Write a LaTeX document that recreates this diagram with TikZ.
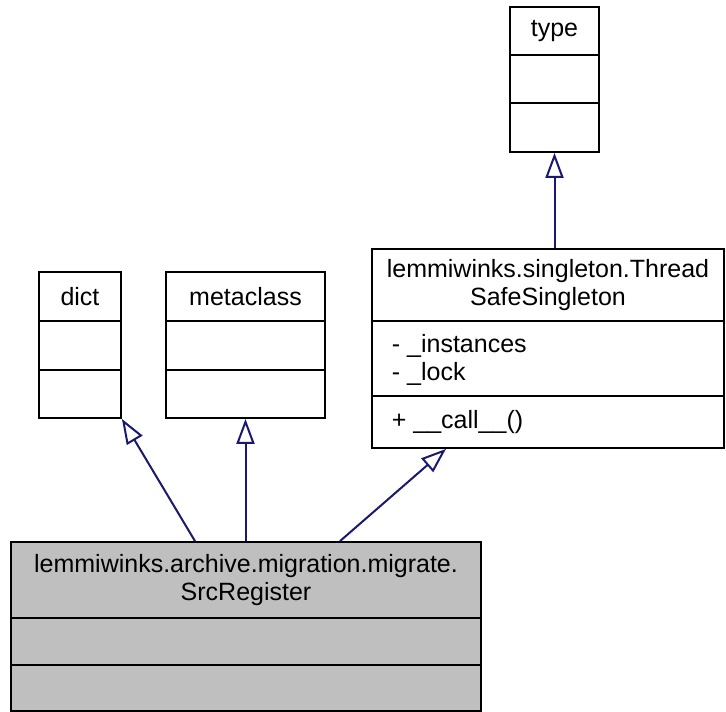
\documentclass[tikz,border=0pt]{standalone}
\usepackage{fontspec}
\setmainfont{Liberation Sans}
\usepackage{xcolor}
\usepackage{tikz}
\usetikzlibrary{arrows.meta, positioning}

\definecolor{edgeblue}{HTML}{191970}
\definecolor{boxgrey}{HTML}{BFBFBF}

\begin{document}
\begin{tikzpicture}[x=1pt, y=-1pt, line width=1.8pt,
    umlbox/.style={draw, rectangle, inner sep=0pt},
    title/.style={font=\fontsize{25}{27.7}\selectfont, align=center, inner sep=0pt},
    member/.style={font=\fontsize{25}{27.7}\selectfont, align=left, anchor=west, inner sep=0pt},
    derive/.style={draw=edgeblue, line width=2pt, -{Triangle[open, length=25pt, width=18pt]}}]
    % Khung
    \fill[white] (0,0) rectangle (726,712);
    \useasboundingbox (0,0) rectangle (726,712);

    % Các lớp cơ sở
    \node[umlbox, minimum width=89pt, minimum height=145pt] (type) at (554.5,79.5) {};
    \node[umlbox, minimum width=82pt, minimum height=146pt] (dict) at (80,345) {};
    \node[umlbox, minimum width=159pt, minimum height=146pt] (meta) at (245.5,345) {};
    \node[umlbox, minimum width=352pt, minimum height=199pt] (tss) at (548,348.5) {};
    \node[umlbox, fill=boxgrey, minimum width=470pt, minimum height=169pt] (src) at (246,626.5) {};

    % Các vạch ngăn
    \foreach \y in {55,103} {
        \draw (type.west |- 0,\y) -- (type.east |- 0,\y);
    }
    \foreach \y in {321,370} {
        \draw (dict.west |- 0,\y) -- (dict.east |- 0,\y);
        \draw (meta.west |- 0,\y) -- (meta.east |- 0,\y);
    }
    \foreach \y in {321,396} {
        \draw (tss.west |- 0,\y) -- (tss.east |- 0,\y);
    }
    \foreach \y in {618,665} {
        \draw (src.west |- 0,\y) -- (src.east |- 0,\y);
    }

    % Tên lớp và thành viên
    \node[title] (typename) at (554.5,31) {type};
    \node[title] (dictname) at (80,296.5) {dict};
    \node[title] (metaname) at (245.5,296.5) {metaclass};
    \node[title] (tssname) at (548,285) {lemmiwinks.singleton.Thread\\SafeSingleton};
    \node[member] (tssattr) at (391,360) {- \_instances\\- \_lock};
    \node[member] (tssops) at (391,422) {+ \_\_call\_\_()};
    \node[title] (srcname) at (246,580) {lemmiwinks.archive.migration.migrate.\\SrcRegister};

    % Quan hệ kế thừa
    \draw[derive] (src.north -| 195,0) -- (dict.south east);
    \draw[derive] (src.north -| meta.south) -- (meta.south);
    \draw[derive] (src.north -| 340,0) -- (tss.south -| 446,0);
    \draw[derive] (tss.north -| type.south) -- (type.south);
\end{tikzpicture}
\end{document}
